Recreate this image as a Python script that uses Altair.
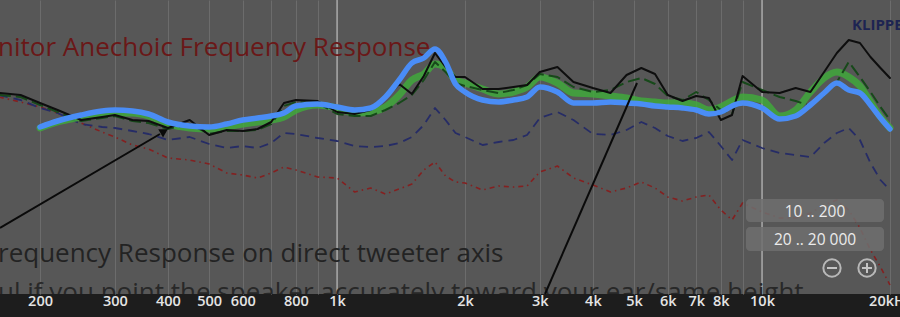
import altair as alt
import pandas as pd

# ---------------- data (frequency in Hz, level in dB) ----------------
freq_lo = [160, 180]
freq = [200, 220, 250, 280, 300, 330, 360, 400, 450, 500, 550, 600, 650, 700, 750, 800, 900,
        1000, 1100, 1200, 1300, 1400, 1500, 1600, 1700, 1800, 1900, 2000, 2200, 2400, 2600, 2800,
        3000, 3300, 3600, 4000, 4400, 4800, 5200, 5600, 6000, 6500, 7000, 7500, 8000, 8500, 9000,
        10000, 11000, 12000, 13000, 14000, 15000, 16000, 17000, 18000, 19000, 20000]
freq_full = freq_lo + freq

blue_db = [74.6, 75.8, 77.0, 77.8, 78.0, 77.8, 77.2, 75.6, 74.8, 74.6,
           75.2, 76.0, 76.4, 76.8, 77.4, 78.8, 79.2, 78.6,
           78.0, 78.4, 80.6, 84.0, 87.4, 88.4, 90.2, 87.6, 83.2, 81.6,
           80.0, 79.6, 80.0, 80.6, 82.6, 81.6, 79.4, 79.4,
           79.6, 79.4, 79.2, 78.8, 78.6, 78.4, 78.0, 77.2, 77.6, 78.8, 79.4,
           78.4, 76.2, 76.8, 79.0, 81.4, 83.4, 82.0, 81.4, 79.0, 76.4, 74.2]

green_db = [74.4, 75.6, 76.6, 77.4, 77.4, 77.4, 76.8, 75.2, 74.4, 74.2,
            74.6, 75.2, 75.6, 76.0, 76.6, 78.0, 79.0, 78.4,
            77.4, 77.6, 78.6, 81.0, 84.0, 85.2, 87.2, 86.4, 84.0, 83.4,
            82.2, 81.2, 81.6, 82.6, 84.6, 83.4, 81.4, 81.2,
            80.8, 80.4, 79.8, 79.6, 79.4, 79.4, 79.0, 78.0, 78.6, 79.8, 80.6,
            80.0, 76.8, 78.0, 81.6, 84.4, 85.6, 84.6, 82.8, 79.6, 76.6, 74.4]

black_db = [81.4, 81.0, 79.4, 78.0, 76.0, 76.6, 77.0, 76.0, 75.8, 74.4,
            76.0, 73.0, 74.0, 73.8, 74.2, 75.6, 79.4, 80.0, 79.8, 77.6,
            77.2, 78.0, 80.4, 83.2, 81.2, 84.8, 89.4, 86.6, 84.6, 84.6,
            82.2, 82.2, 82.6, 83.0, 85.6, 86.6, 83.6, 82.4, 81.4, 85.0,
            86.4, 85.2, 81.0, 79.8, 80.8, 80.4, 76.0, 77.0, 84.8, 81.6,
            81.4, 82.4, 81.6, 85.6, 89.4, 92.0, 91.4, 88.6, 86.4, 84.4]

dkgreen_db = [81.0, 80.6, 79.0, 77.6, 75.8, 76.4, 76.8, 75.8, 75.4, 74.2,
              75.2, 73.2, 73.8, 73.8, 74.0, 75.2, 78.8, 79.6, 79.4, 77.2,
              76.8, 76.8, 78.0, 79.4, 81.0, 84.0, 87.6, 85.6, 83.4, 82.8,
              82.0, 81.4, 82.0, 83.0, 85.2, 84.6, 82.6, 81.6, 82.0, 83.6,
              84.4, 83.2, 80.8, 80.0, 81.6, 80.0, 78.0, 77.2, 83.6, 82.0,
              80.6, 79.8, 78.8, 81.0, 83.6, 87.6, 84.6, 81.6, 78.6, 76.0]

navy_db = [81.0, 80.0, 78.4, 77.4, 75.2, 74.6, 74.4, 73.8, 73.2, 72.0,
           72.6, 71.2, 70.4, 70.8, 70.4, 71.4, 73.4, 73.2, 72.4, 71.8,
           70.8, 70.6, 70.8, 71.4, 72.6, 75.0, 78.4, 76.0, 73.4, 72.6,
           71.0, 71.6, 72.0, 73.0, 76.4, 77.6, 76.0, 73.2, 73.0, 74.0,
           75.6, 74.4, 72.8, 71.8, 72.4, 73.6, 70.8, 68.0, 72.0, 70.4,
           69.4, 69.0, 68.6, 71.4, 73.4, 74.4, 72.0, 67.4, 64.0, 62.0]

red_db = [80.6, 79.6, 78.6, 77.4, 75.4, 73.6, 72.6, 71.0, 70.2, 68.4,
          68.0, 67.2, 65.4, 65.0, 64.4, 65.4, 66.6, 66.0, 64.6, 64.4,
          61.6, 62.4, 61.2, 62.2, 63.2, 66.0, 67.6, 64.8, 63.6, 63.4,
          62.0, 62.8, 62.6, 62.8, 65.6, 66.8, 64.4, 63.0, 61.6, 62.4,
          63.6, 62.4, 60.6, 59.8, 60.6, 61.0, 58.0, 56.0, 59.4, 57.6,
          56.4, 56.4, 57.4, 59.0, 60.0, 58.0, 54.4, 50.0, 46.6, 43.0]

grid_freqs = [200, 300, 400, 500, 600, 700, 800, 900, 1000, 2000, 3000, 4000, 5000,
              6000, 7000, 8000, 9000, 10000, 20000]
unlabeled = [700, 900, 9000]
grid_db = [97.4, 87.0, 83.8, 73.4, 70.2, 59.6, 56.6, 43.0]
bright_freqs = [1000, 10000]

title_text = "nitor Anechoic Frequency Response"
note1 = "requency Response on direct tweeter axis"
note2 = "ul if you point the speaker accurately toward your ear/same height"
brand = "KLIPPEL"
btn1 = "10 .. 200"
btn2 = "20 .. 20 000"

# ---------------- scales ----------------
xs = alt.Scale(type="log", domain=[161, 21120], nice=False)
ys = alt.Scale(domain=[41.2, 100], nice=False, zero=False)

hide = " || ".join("datum.value == %d" % v for v in unlabeled)
label_expr = ("(" + hide + ") ? '' : "
              "datum.value == 20000 ? '20kHz' : datum.value >= 1000 ? (datum.value/1000) + 'k' : '' + datum.value")

one = pd.DataFrame({"a": [0]})


def series(f, db, color, width, dash=None, opacity=1.0, interp="linear"):
    df = pd.DataFrame({"f": f, "db": db})
    kw = dict(color=color, strokeWidth=width, opacity=opacity, interpolate=interp,
              clip=True, strokeCap="round", strokeJoin="round")
    if dash:
        kw["strokeDash"] = dash
        kw["strokeCap"] = "butt"
    return alt.Chart(df).mark_line(**kw).encode(
        x=alt.X("f:Q", scale=xs, axis=None),
        y=alt.Y("db:Q", scale=ys, axis=None),
    )


# grid / axis layer
grid_df = pd.DataFrame({"f": grid_freqs})
xgrid = alt.Chart(grid_df).mark_tick(opacity=0).encode(
    x=alt.X("f:Q", scale=xs, axis=alt.Axis(
        values=grid_freqs, labelExpr=label_expr, title=None, grid=True,
        gridColor="#6c6c6c", gridWidth=1, ticks=False, domain=False,
        labelColor="#e4e4e4", labelFontSize=14.5, labelFont="Open Sans",
        labelFontWeight=600, labelPadding=0, labelFlush=False,
        labelOverlap=False, labelBound=False)),
)
ygrid_df = pd.DataFrame({"db": grid_db})
ygrid = alt.Chart(ygrid_df).mark_tick(opacity=0).encode(
    y=alt.Y("db:Q", scale=ys, axis=alt.Axis(
        values=grid_db, labels=False, ticks=False, domain=False, title=None,
        grid=True, gridColor="#6a6a6a", gridWidth=1)),
)
bright = alt.Chart(pd.DataFrame({"f": bright_freqs})).mark_rule(
    color="#a8a8a8", strokeWidth=1.5).encode(x=alt.X("f:Q", scale=xs, axis=None))

red = series(freq_full, red_db, "#842020", 1.6, dash=[5, 4, 1.5, 4])
navy = series(freq_full, navy_db, "#262c66", 1.8, dash=[9, 6])
green = series(freq, green_db, "#3fae3a", 7, opacity=0.8, interp="monotone")
dkgreen = series(freq_full, dkgreen_db, "#17491a", 2, dash=[12, 5])
black = series(freq_full, black_db, "#0e0e0e", 2)
blue = series(freq, blue_db, "#4a8df6", 5.5, interp="monotone")

# ---------------- annotations ----------------
def txt(t, x, y, size, color, weight="normal", align="left", clip=False, opacity=1.0):
    return alt.Chart(one).mark_text(
        text=t, align=align, baseline="alphabetic", fontSize=size, font="Open Sans",
        fontWeight=weight, color=color, clip=clip, opacity=opacity
    ).encode(x=alt.value(x), y=alt.value(y))


title = txt(title_text, -2, 56, 26, "#6a1818")
t1 = txt(note1, -2, 262, 26, "#232323")
t2 = txt(note2, -2, 301, 26, "#282828", clip=True)
kl = txt(brand, 852, 30, 15, "#1d2452", weight="bold")

arrow1 = alt.Chart(one).mark_rule(color="#0a0a0a", strokeWidth=2).encode(
    x=alt.value(0), y=alt.value(228), x2=alt.value(160), y2=alt.value(134))
head1 = alt.Chart(one).mark_point(shape="triangle", filled=True, color="#0a0a0a",
                                   size=90, angle=59.5, opacity=1).encode(
    x=alt.value(163), y=alt.value(132))
arrow2 = alt.Chart(one).mark_rule(color="#0a0a0a", strokeWidth=2).encode(
    x=alt.value(545), y=alt.value(294), x2=alt.value(637), y2=alt.value(83))

btn_a = alt.Chart(one).mark_rect(fill="#6e6e6e", opacity=0.85, cornerRadius=4).encode(
    x=alt.value(746), x2=alt.value(884), y=alt.value(199), y2=alt.value(222))
btn_b = alt.Chart(one).mark_rect(fill="#6e6e6e", opacity=0.85, cornerRadius=4).encode(
    x=alt.value(746), x2=alt.value(884), y=alt.value(227), y2=alt.value(251))
bt1 = txt(btn1, 815, 217, 15.5, "#ececec", align="center")
bt2 = txt(btn2, 815, 245, 15.5, "#ececec", align="center")

circ = alt.Chart(pd.DataFrame({"cx": [832, 867]})).mark_point(
    shape="circle", size=300, color="#b8b8b8", strokeWidth=2, filled=False, opacity=1
).encode(x=alt.X("cx:Q", scale=alt.Scale(domain=[0, 900], range=[0, 900]), axis=None),
         y=alt.value(268))
minus = alt.Chart(one).mark_rule(color="#c4c4c4", strokeWidth=2).encode(
    x=alt.value(827), x2=alt.value(837), y=alt.value(268))
plus_h = alt.Chart(one).mark_rule(color="#c4c4c4", strokeWidth=2).encode(
    x=alt.value(862), x2=alt.value(872), y=alt.value(268))
plus_v = alt.Chart(one).mark_rule(color="#c4c4c4", strokeWidth=2).encode(
    x=alt.value(867), y=alt.value(263), y2=alt.value(273))

chart = alt.layer(
    xgrid, ygrid, bright,
    title,
    red, navy, green, dkgreen, black, blue,
    t1, t2, kl,
    arrow1, head1, arrow2,
    btn_a, btn_b, bt1, bt2, circ, minus, plus_h, plus_v,
).resolve_scale(x="independent").properties(
    width=900, height=294,
    background="#1d1d1d",
    padding={"left": 0, "top": 0, "right": 0, "bottom": 23},
    autosize=alt.AutoSizeParams(type="none"),
).configure_view(fill="#575757", stroke=None)

chart.save("out.html", embed_options={"renderer": "svg", "actions": False})
